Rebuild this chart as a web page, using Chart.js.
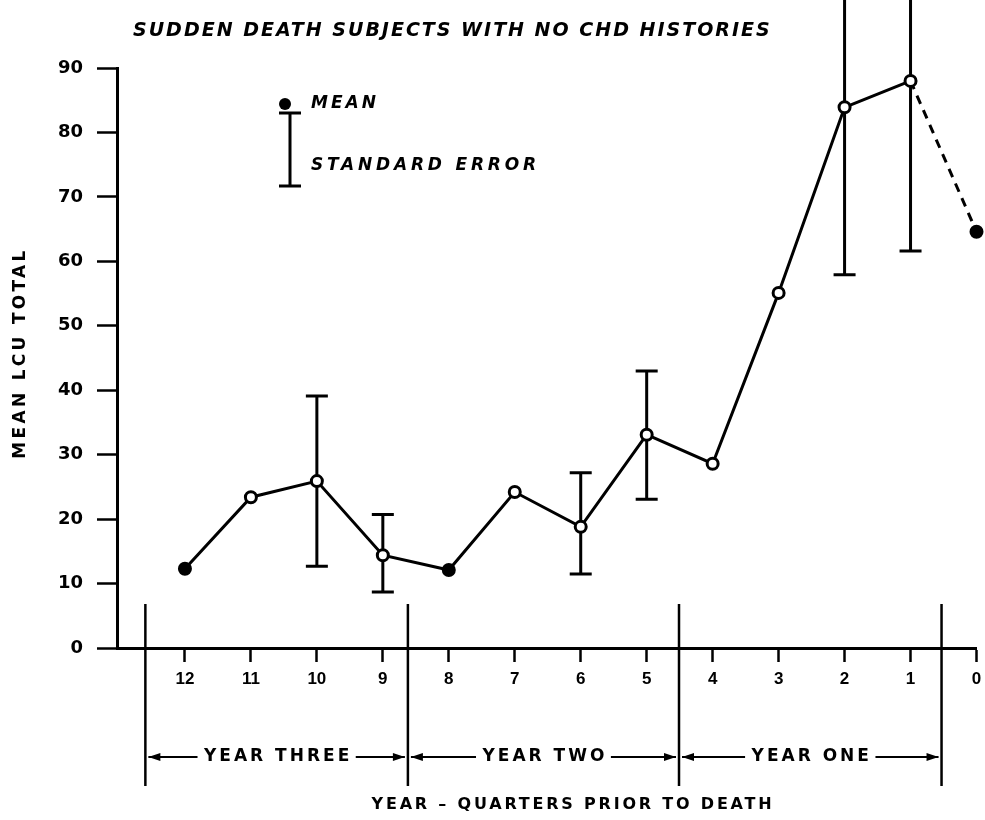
<!DOCTYPE html>
<html><head><meta charset="utf-8">
<script src="https://cdn.jsdelivr.net/npm/chart.js@4/dist/chart.umd.min.js"></script>
<style>html,body{margin:0;padding:0;background:#fff}#wrap{width:985px;height:820px;position:relative}</style>
</head><body><div id="wrap"><canvas id="c" width="985" height="820"></canvas></div>
<script>
// ---- data ----
const chartTitle = "SUDDEN DEATH SUBJECTS WITH NO CHD HISTORIES";
const yAxisTitle = "MEAN LCU TOTAL";
const xAxisTitle = "YEAR \u2013 QUARTERS PRIOR TO DEATH";
const quarters = [12, 11, 10, 9, 8, 7, 6, 5, 4, 3, 2, 1, 0];
const meanLCU  = [12.3, 23.4, 25.9, 14.4, 12.1, 24.2, 18.8, 33.1, 28.6, 55.1, 83.9, 88.0, 64.6];
const seUpper  = [null, null, 39.1, 20.7, null, null, 27.2, 43.0, null, null, 110.0, 114.5, null];
const seLower  = [null, null, 12.7,  8.7, null, null, 11.5, 23.1, null, null, 57.9, 61.6, null];
const filledPoint = [true, false, false, false, true, false, false, false, false, false, false, false, true];
const yTicks = [0, 10, 20, 30, 40, 50, 60, 70, 80, 90];
const yearLabels = ["YEAR THREE", "YEAR TWO", "YEAR ONE"];
const yearDividers = [12.6, 8.62, 4.51, 0.53];
const legendLabels = ["MEAN", "STANDARD ERROR"];

const FONT = '"Liberation Sans", Arial, sans-serif';
const WIDE = '"DejaVu Sans", sans-serif';

const errorBars = {
  id: 'errorBars',
  beforeDatasetsDraw(chart) {
    const {ctx, scales: {x, y}} = chart;
    ctx.save();
    ctx.strokeStyle = '#000';
    ctx.lineWidth = 3;
    ctx.lineCap = 'butt';
    quarters.forEach((q, i) => {
      if (seUpper[i] == null) return;
      const px = x.getPixelForValue(q);
      const yt = y.getPixelForValue(seUpper[i]);
      const yb = y.getPixelForValue(seLower[i]);
      ctx.beginPath();
      ctx.moveTo(px, yt); ctx.lineTo(px, yb);
      ctx.moveTo(px - 11, yt); ctx.lineTo(px + 11, yt);
      ctx.moveTo(px - 11, yb); ctx.lineTo(px + 11, yb);
      ctx.stroke();
    });
    ctx.restore();
  }
};

function spacedText(ctx, text, x, y, spacing) {
  if ('letterSpacing' in ctx) { ctx.letterSpacing = spacing + 'px'; ctx.fillText(text, x, y); ctx.letterSpacing = '0px'; }
  else ctx.fillText(text, x, y);
}

const annotations = {
  id: 'annotations',
  afterDraw(chart) {
    const {ctx, scales: {x}} = chart;
    ctx.save();
    ctx.fillStyle = '#000';
    ctx.strokeStyle = '#000';
    ctx.textBaseline = 'middle';

    // title
    ctx.font = 'italic bold 19px ' + WIDE;
    ctx.textAlign = 'left';
    spacedText(ctx, chartTitle, 133, 31, 2.0);

    // legend
    ctx.beginPath(); ctx.arc(285, 104, 6, 0, Math.PI * 2); ctx.fill();
    ctx.font = 'italic bold 17px ' + WIDE;
    spacedText(ctx, legendLabels[0], 311, 104, 3);
    ctx.lineWidth = 3;
    ctx.beginPath();
    ctx.moveTo(290, 113); ctx.lineTo(290, 186);
    ctx.moveTo(279, 113); ctx.lineTo(301, 113);
    ctx.moveTo(279, 186); ctx.lineTo(301, 186);
    ctx.stroke();
    spacedText(ctx, legendLabels[1], 311, 166, 3.8);

    // y axis title
    ctx.save();
    ctx.translate(21, 353);
    ctx.rotate(-Math.PI / 2);
    ctx.textAlign = 'center';
    ctx.font = 'bold 17px ' + WIDE;
    spacedText(ctx, yAxisTitle, 0, 0, 3.3);
    ctx.restore();

    // x axis title
    ctx.textAlign = 'center';
    ctx.font = 'bold 16px ' + WIDE;
    spacedText(ctx, xAxisTitle, 573, 805, 2.8);

    // year dividers
    ctx.lineWidth = 2.5;
    const xs = yearDividers.map(v => x.getPixelForValue(v));
    xs.forEach(px => { ctx.beginPath(); ctx.moveTo(px, 604); ctx.lineTo(px, 786); ctx.stroke(); });
    ctx.font = 'bold 17px ' + WIDE;
    yearLabels.forEach((lab, i) => {
      const a = xs[i], b = xs[i + 1];
      const cx = (a + b) / 2, cy = 757;
      ctx.letterSpacing = '3px';
      const w = ctx.measureText(lab).width;
      ctx.letterSpacing = '0px';
      spacedText(ctx, lab, cx + 1.5, cy, 3);
      const l0 = cx - w / 2 - 5, r0 = cx + w / 2 + 5;
      ctx.lineWidth = 2;
      ctx.beginPath();
      ctx.moveTo(a + 3, cy); ctx.lineTo(l0, cy);
      ctx.moveTo(r0, cy); ctx.lineTo(b - 3, cy);
      ctx.stroke();
      ctx.beginPath();
      ctx.moveTo(a + 3, cy); ctx.lineTo(a + 15, cy - 4); ctx.lineTo(a + 15, cy + 4); ctx.closePath();
      ctx.moveTo(b - 3, cy); ctx.lineTo(b - 15, cy - 4); ctx.lineTo(b - 15, cy + 4); ctx.closePath();
      ctx.fill();
    });
    ctx.restore();
  }
};

new Chart(document.getElementById('c'), {
  type: 'line',
  data: {
    datasets: [{
      data: quarters.map((q, i) => ({x: q, y: meanLCU[i]})),
      borderColor: '#000',
      borderWidth: 3,
      pointRadius: 5.5,
      pointBorderWidth: 3,
      pointBorderColor: '#000',
      pointBackgroundColor: filledPoint.map(f => f ? '#000' : '#fff'),
      tension: 0,
      clip: false,
      segment: { borderDash: c => (quarters[c.p1DataIndex] === 0 ? [9, 7] : undefined) }
    }]
  },
  options: {
    responsive: false,
    animation: false,
    events: [],
    layout: { padding: { top: 68, right: 2, left: 0, bottom: 0 } },
    plugins: { legend: { display: false }, tooltip: { enabled: false }, title: { display: false } },
    scales: {
      x: {
        type: 'linear', reverse: true, min: 0, max: 13.03,
        afterBuildTicks: s => { s.ticks = quarters.map(v => ({value: v})); },
        afterFit: s => { s.height = 172; s.paddingRight = 0; s.paddingLeft = 0; },
        ticks: { color: '#000', font: { family: FONT, size: 17, weight: 'bold' }, padding: 7, autoSkip: false, maxRotation: 0, callback: v => String(v) },
        grid: { drawOnChartArea: false, tickLength: 14, tickWidth: 2.5, tickColor: '#000' },
        border: { color: '#000', width: 3 }
      },
      y: {
        min: 0, max: 90,
        afterBuildTicks: s => { s.ticks = yTicks.map(v => ({value: v})); },
        afterFit: s => { s.width = 117; },
        ticks: { color: '#000', font: { family: WIDE, size: 18, weight: 'bold' }, padding: 14 },
        grid: { drawOnChartArea: false, tickLength: 20, tickWidth: 2.5, tickColor: '#000' },
        border: { color: '#000', width: 3 }
      }
    }
  },
  plugins: [errorBars, annotations]
});
</script></body></html>
